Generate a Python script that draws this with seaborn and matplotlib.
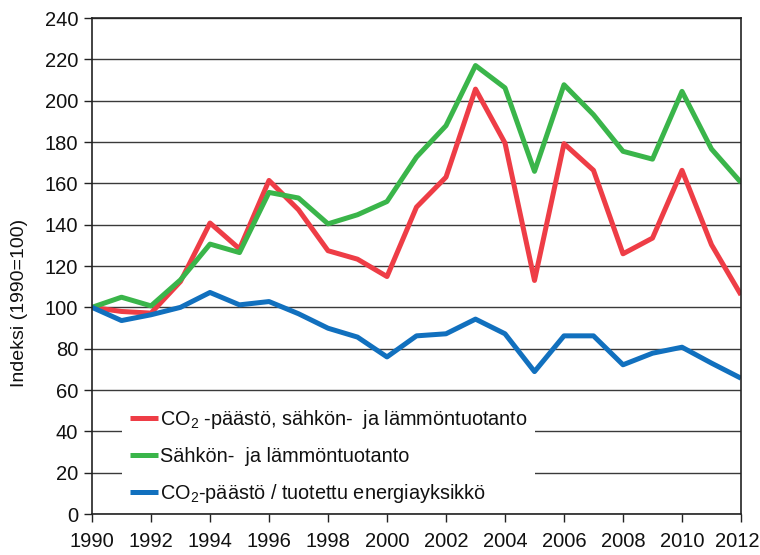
import matplotlib
matplotlib.use("Agg")
import matplotlib.pyplot as plt
import matplotlib.transforms as mtransforms
import seaborn as sns
import pandas as pd

years = list(range(1990, 2013))
co2_emissions = [100, 98, 97.2, 112.5, 140.8, 128.3, 161.4, 147.2, 127.4, 123.3, 114.9,
                 148.5, 163, 205.6, 179.5, 113, 179.2, 166.3, 125.9, 133.5, 166.3, 130.3, 106]
production = [100, 104.9, 100.7, 113.3, 130.6, 126.5, 155.6, 152.9, 140.4, 144.8, 151.2,
              172.7, 187.9, 217, 206.2, 165.8, 207.7, 193.2, 175.5, 171.7, 204.5, 176.6, 160.4]
co2_per_unit = [100, 93.6, 96.4, 100, 107.2, 101.2, 102.8, 96.9, 89.9, 85.6, 76,
                86.2, 87.2, 94.3, 87.2, 68.9, 86.2, 86.2, 72.2, 77.8, 80.7, 73, 65.7]

labels = ["CO$_2$ -päästö, sähkön-  ja lämmöntuotanto",
          "Sähkön-  ja lämmöntuotanto",
          "CO$_2$-päästö / tuotettu energiayksikkö"]
colors = ["#EE3D46", "#3AB54A", "#1170BE"]

df = pd.concat([
    pd.DataFrame({"Vuosi": years, "Indeksi": co2_emissions, "Sarja": labels[0]}),
    pd.DataFrame({"Vuosi": years, "Indeksi": production, "Sarja": labels[1]}),
    pd.DataFrame({"Vuosi": years, "Indeksi": co2_per_unit, "Sarja": labels[2]}),
])

sns.set_style("white")
plt.rcParams["font.family"] = ["Liberation Sans", "DejaVu Sans"]
plt.rcParams["mathtext.fontset"] = "custom"
plt.rcParams["mathtext.rm"] = "Liberation Sans"
plt.rcParams["mathtext.it"] = "Liberation Sans"

fig = plt.figure(figsize=(7.6, 5.55), dpi=100)
ax = fig.add_axes([92/760, 41/555, (741-92)/760, (514-18)/555])

sns.lineplot(data=df, x="Vuosi", y="Indeksi", hue="Sarja", palette=colors,
             hue_order=labels, linewidth=3.6, ax=ax, solid_capstyle="butt")

ax.set_xlim(1990, 2012)
ax.set_ylim(0, 240)
ax.set_xticks(range(1990, 2013, 2))
ax.set_yticks(range(0, 241, 20))
ax.tick_params(axis="both", labelsize=14.5, length=6, width=1, color="#222222",
               direction="out", left=True, bottom=True, labelcolor="#111111")
ax.tick_params(axis="x", pad=7)
ax.tick_params(axis="y", pad=4)
ax.yaxis.grid(True, color="#3a3a3a", linewidth=1)
ax.set_axisbelow(True)
for s in ax.spines.values():
    s.set_color("#222222")
    s.set_linewidth(1.2)
ax.set_xlabel("")
ax.set_ylabel("Indeksi (1990=100)", fontsize=14, color="#111111")
ax.yaxis.set_label_coords(-0.098, 0.425)

fig.canvas.draw()
last = ax.get_xticklabels()[-1]
last.set_transform(last.get_transform() + mtransforms.ScaledTranslation(-4/100, 0, fig.dpi_scale_trans))

leg = ax.legend(loc="upper left", bbox_to_anchor=(34/649, 110/496), frameon=True,
                fontsize=14.3, handlelength=1.4, handletextpad=0.1, labelspacing=0.8,
                borderpad=0.2, borderaxespad=0)
leg.get_frame().set_edgecolor("none")
leg.get_frame().set_facecolor("white")
leg.get_frame().set_alpha(1)
leg.get_frame().set_boxstyle("square", pad=0.2)
for line in leg.get_lines():
    line.set_linewidth(3.6)
for t in leg.get_texts():
    t.set_color("#111111")

fig.savefig("out.png", dpi=100)
